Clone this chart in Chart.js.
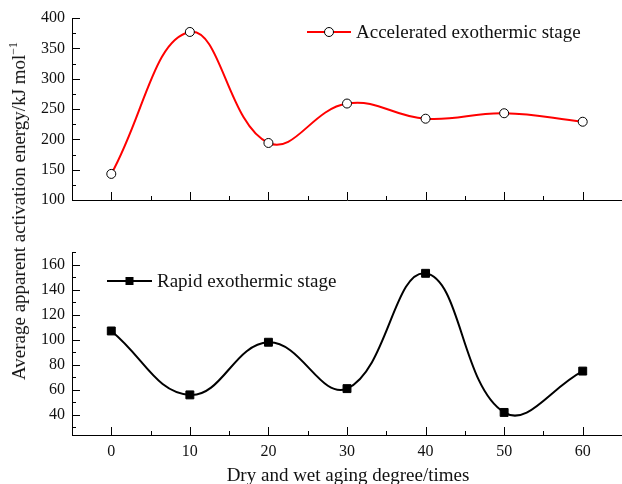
<!DOCTYPE html>
<html>
<head>
<meta charset="utf-8">
<script src="https://cdn.jsdelivr.net/npm/chart.js@4.4.1/dist/chart.umd.min.js"></script>
<style>
  html, body { margin:0; padding:0; background:#fff; }
  #wrap { position:relative; width:622px; height:484px; overflow:hidden; font-family:"Liberation Serif","Times New Roman",serif; color:#111; }
  #c1 { position:absolute; left:0; top:0; }
  #c2 { position:absolute; left:0; top:230px; }
  .ytitle { position:absolute; left:19px; top:211px; transform:translate(-50%,-50%) rotate(-90deg); white-space:nowrap; font-size:19px; line-height:20px; }
  .ytitle sup { font-size:12px; vertical-align:8px; line-height:0; }
  .xtitle { position:absolute; left:348px; top:475px; transform:translate(-50%,-50%); white-space:nowrap; font-size:19px; line-height:20px; }
</style>
</head>
<body>
<div id="wrap">
  <canvas id="c1" width="622" height="230"></canvas>
  <canvas id="c2" width="622" height="254"></canvas>
  <div class="ytitle">Average apparent activation energy/kJ mol<sup>−1</sup></div>
  <div class="xtitle">Dry and wet aging degree/times</div>
</div>
<script>
// ---- data ----
const categories = [0, 10, 20, 30, 40, 50, 60];
const acceleratedValues = [143, 377, 194, 259, 234, 243, 229];
const rapidValues = [107, 56, 98, 61, 153, 42, 75];
const xTickLabels = [0, 10, 20, 30, 40, 50, 60];
const xMinorTicks = [5, 15, 25, 35, 45, 55];
const topYTicks = [100, 150, 200, 250, 300, 350, 400];
const topYMinor = [125, 175, 225, 275, 325, 375];
const bottomYTicks = [40, 60, 80, 100, 120, 140, 160];
const bottomYMinor = [30, 50, 70, 90, 110, 130, 150, 170];
const acceleratedLabel = 'Accelerated exothermic stage';
const rapidLabel = 'Rapid exothermic stage';

const FONT = '"Liberation Serif", "Times New Roman", serif';

const inTicks = {
  id: 'inTicks',
  afterDraw(chart, args, opts) {
    const ctx = chart.ctx;
    const xs = chart.scales.x, ys = chart.scales.y;
    const ca = chart.chartArea;
    ctx.save();
    ctx.strokeStyle = '#000';
    ctx.lineWidth = 1;
    ctx.beginPath();
    const hx = (vals, len) => vals.forEach(v => {
      const px = Math.round(xs.getPixelForValue(v)) + 0.5;
      ctx.moveTo(px, ca.bottom); ctx.lineTo(px, ca.bottom - len);
    });
    const vy = (vals, len) => vals.forEach(v => {
      const py = Math.round(ys.getPixelForValue(v)) + 0.5;
      ctx.moveTo(ca.left, py); ctx.lineTo(ca.left + len, py);
    });
    hx(opts.xMajor, 8); hx(opts.xMinor, 4);
    vy(opts.yMajor, 8); vy(opts.yMinor, 4);
    ctx.stroke();
    // legend
    const L = opts.legend;
    ctx.strokeStyle = L.color; ctx.lineWidth = 2;
    ctx.beginPath(); ctx.moveTo(L.x1, L.y); ctx.lineTo(L.x2, L.y); ctx.stroke();
    const mx = (L.x1 + L.x2) / 2;
    if (L.marker === 'circle') {
      ctx.fillStyle = '#fff'; ctx.strokeStyle = '#000'; ctx.lineWidth = 1;
      ctx.beginPath(); ctx.arc(mx, L.y, 4.5, 0, Math.PI * 2); ctx.fill(); ctx.stroke();
    } else {
      ctx.fillStyle = '#000';
      ctx.fillRect(mx - 4, L.y - 4, 8, 8);
    }
    ctx.fillStyle = '#111';
    ctx.font = '19px ' + FONT;
    ctx.textBaseline = 'middle';
    ctx.textAlign = 'left';
    ctx.fillText(L.text, L.x2 + 5, L.y + 1);
    ctx.restore();
  }
};

function makeChart(id, values, cfg) {
  return new Chart(document.getElementById(id), {
    type: 'line',
    data: {
      datasets: [{
        label: cfg.label,
        data: categories.map((c, i) => ({ x: c, y: values[i] })),
        borderColor: cfg.color,
        borderWidth: 2,
        tension: 0.42,
        pointStyle: cfg.pointStyle,
        pointRadius: cfg.pointRadius,
        pointBackgroundColor: cfg.pointFill,
        pointBorderColor: '#000',
        pointBorderWidth: 1,
        clip: false
      }]
    },
    options: {
      responsive: false,
      animation: false,
      events: [],
      layout: { autoPadding: false, padding: { left: 0, right: 0, top: cfg.padTop, bottom: 0 } },
      plugins: {
        legend: { display: false },
        tooltip: { enabled: false },
        inTicks: {
          xMajor: xTickLabels, xMinor: xMinorTicks,
          yMajor: cfg.yTicks, yMinor: cfg.yMinor,
          legend: cfg.legend
        }
      },
      scales: {
        x: {
          type: 'linear', min: -5, max: 65,
          grid: { display: true, drawOnChartArea: false, drawTicks: false },
          border: { display: true, color: '#000', width: 1 },
          afterBuildTicks: s => { s.ticks = xTickLabels.map(v => ({ value: v })); },
          afterFit: s => { s.height = cfg.xHeight; },
          ticks: { display: cfg.xLabels, padding: 7, color: '#111', font: { family: FONT, size: 16 } }
        },
        y: {
          type: 'linear', min: cfg.yMin, max: cfg.yMax,
          grid: { display: true, drawOnChartArea: false, drawTicks: false },
          border: { display: true, color: '#000', width: 1 },
          afterBuildTicks: s => { s.ticks = cfg.yTicks.map(v => ({ value: v })); },
          afterFit: s => { s.width = 72; },
          ticks: { padding: 7, color: '#111', font: { family: FONT, size: 16 } }
        }
      }
    },
    plugins: [inTicks]
  });
}

makeChart('c1', acceleratedValues, {
  label: acceleratedLabel, color: '#ff0000', pointStyle: 'circle', pointRadius: 4.5, pointFill: '#fff',
  padTop: 18, xHeight: 30, xLabels: false, yMin: 100, yMax: 400,
  yTicks: topYTicks, yMinor: topYMinor,
  legend: { x1: 307, x2: 351, y: 32, color: '#ff0000', marker: 'circle', text: acceleratedLabel }
});

makeChart('c2', rapidValues, {
  label: rapidLabel, color: '#000', pointStyle: 'rect', pointRadius: 5.6, pointFill: '#000',
  padTop: 22, xHeight: 49, xLabels: true, yMin: 24, yMax: 170,
  yTicks: bottomYTicks, yMinor: bottomYMinor,
  legend: { x1: 107, x2: 152, y: 51, color: '#000', marker: 'rect', text: rapidLabel }
});
</script>
</body>
</html>
